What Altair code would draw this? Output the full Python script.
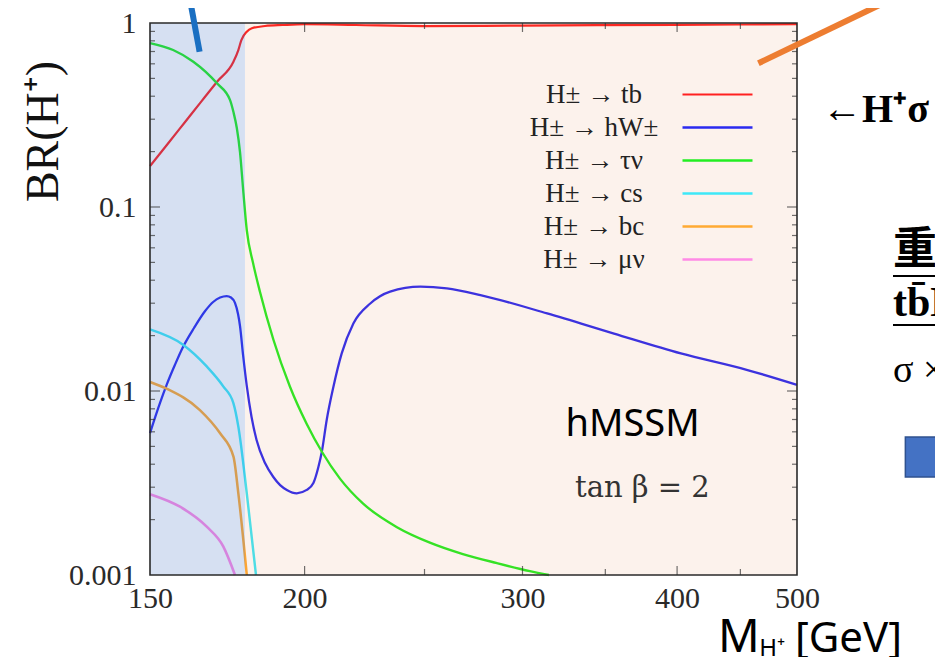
import altair as alt
import pandas as pd

# ---------------- data ----------------
series = ["H±  →  tb", "H±  →  hW±", "H±  →  τν", "H±  →  cs", "H±  →  bc", "H±  →  μν"]
colors = ["#ff2020", "#2a2af0", "#22ee22", "#3ee8f8", "#ffaa33", "#ff8ae6"]
widths = [2.2, 2.6, 2.6, 1.6, 1.6, 1.6]

tb_mass = [150, 155, 160, 165, 170, 175.2, 176.8, 177.8, 179.6, 181.3, 185.8, 192, 200, 220, 250, 300, 400, 500]
tb_br = [0.167, 0.220, 0.288, 0.374, 0.481, 0.616, 0.713, 0.808, 0.897, 0.936, 0.963, 0.975, 0.985, 0.975,
         0.962, 0.968, 0.978, 0.985]

hw_mass = [150, 152.8, 154.8, 157.1, 159.5, 162.8, 166.2, 168.7, 170.9, 173.0, 174.4, 175.7, 176.7, 177.35,
           178.4, 179.6, 181.2, 182.9, 185.8, 188.7, 191.1, 193.5, 197.1, 200.8, 203.3, 205.2, 206.5, 208.4,
           211.0, 214.3, 219.0, 226.0, 234.5, 248.1, 260.6, 277.4, 314.1, 355.7, 402.8, 456, 500]
hw_br = [0.00591, 0.0086, 0.0109, 0.01384, 0.01734, 0.022, 0.0272, 0.03046, 0.0322, 0.0328, 0.0322, 0.0301,
         0.0262, 0.02256, 0.0155, 0.01065, 0.00722, 0.00542, 0.00406, 0.00341, 0.00308, 0.0029, 0.00278,
         0.0029, 0.00316, 0.00386, 0.00466, 0.00696, 0.01051, 0.016, 0.0233, 0.0299, 0.0347, 0.0369, 0.0361,
         0.0332, 0.0264, 0.0205, 0.016, 0.013, 0.0108]

tau_mass = [150, 156.6, 162.6, 169.9, 174.1, 175.2, 176.3, 177.35, 178.4, 179.6, 181.7, 184.1, 188.7, 194.6,
            200.8, 206.6, 213.6, 222.9, 237.5, 252.5, 268.5, 286.1, 304.1, 315.1]
tau_br = [0.778, 0.713, 0.616, 0.47, 0.381, 0.328, 0.2687, 0.199, 0.1237, 0.0748, 0.0497, 0.0344, 0.01905,
          0.01058, 0.00662, 0.00466, 0.00334, 0.00245, 0.00182, 0.0015, 0.0013, 0.00116, 0.00105, 0.001]

cs_mass = [150, 159.6, 166.7, 171.9, 175.2, 176.8, 179.6, 182.7]
cs_br = [0.0216, 0.0178, 0.0136, 0.0106, 0.00857, 0.0064, 0.00278, 0.001]

bc_mass = [150, 154.7, 164.6, 170.9, 175.2, 176.8, 179.6]
bc_br = [0.0112, 0.0103, 0.00788, 0.00589, 0.0044, 0.00278, 0.001]

mu_mass = [150, 158.6, 166.7, 171.9, 175.7]
mu_br = [0.00275, 0.00235, 0.00183, 0.00143, 0.001]

x_labels = [150, 200, 300, 400, 500]
y_labels = [0.001, 0.01, 0.1, 1]
x_major_ticks = [200, 300, 400]
x_minor_ticks = [250, 350, 450]
y_major_ticks = [0.01, 0.1]
y_minor_ticks = [k * d for d in (0.001, 0.01, 0.1) for k in range(2, 10)]

region_low = [150, 179]     # light-blue band (below the tb threshold)
region_high = [179, 500]    # peach band

# ---------------- build table ----------------
parts = []
for name, m, b in zip(series,
                      [tb_mass, hw_mass, tau_mass, cs_mass, bc_mass, mu_mass],
                      [tb_br, hw_br, tau_br, cs_br, bc_br, mu_br]):
    parts.append(pd.DataFrame({"series": name, "mass": m, "br": b}))
curves = pd.concat(parts, ignore_index=True)

X_SCALE = alt.Scale(type="log", domain=[150, 500], nice=False)
Y_SCALE = alt.Scale(type="log", domain=[0.001, 1], nice=False)
SERIF = "Liberation Serif"
one = pd.DataFrame({"t": [""]})

lines = alt.Chart(curves).mark_line(interpolate="monotone").encode(
    x=alt.X("mass:Q", scale=X_SCALE, axis=alt.Axis(
        values=x_labels, labelExpr="'' + datum.value", ticks=False, domain=False, grid=False,
        labelFont=SERIF, labelFontSize=30, labelColor="#2a2a2a", labelPadding=8, labelOverlap=False,
        labelFlush=False, title=None)),
    y=alt.Y("br:Q", scale=Y_SCALE, axis=alt.Axis(
        values=y_labels, labelExpr="'' + datum.value", ticks=False, domain=False, grid=False,
        labelFont=SERIF, labelFontSize=30, labelColor="#2a2a2a", labelPadding=14, labelOverlap=False,
        title="BR(H⁺)", titleFont=SERIF, titleFontSize=46, titleFontWeight="normal", titleColor="#111",
        titleAngle=270, titleX=-83, titleY=108, titleAlign="center", titleBaseline="bottom")),
    color=alt.Color("series:N", scale=alt.Scale(domain=series, range=colors), legend=alt.Legend(
        title=None, orient="none", legendX=337, legendY=58, padding=0,
        symbolType="M-1,0M18.2,0H25.2", symbolSize=400, symbolStrokeWidth=2.5,
        labelFont=SERIF, labelFontSize=27, labelColor="#222", labelAlign="center",
        labelOffset=80, labelLimit=400, rowPadding=5)),
    strokeWidth=alt.StrokeWidth("series:N", scale=alt.Scale(domain=series, range=widths), legend=None),
)

blue_band = alt.Chart(pd.DataFrame({"s": [region_low[0]], "e": [region_low[1]]})).mark_rect(
    color="#4472c4", opacity=0.22).encode(
    x=alt.X("s:Q", scale=X_SCALE), x2="e:Q", y=alt.datum(0.001), y2=alt.datum(1))
peach_band = alt.Chart(pd.DataFrame({"s": [region_high[0]], "e": [region_high[1]]})).mark_rect(
    color="#e17d41", opacity=0.1).encode(
    x=alt.X("s:Q", scale=X_SCALE), x2="e:Q", y=alt.datum(0.001), y2=alt.datum(1))


def x_ticks(vals, length):
    df = pd.DataFrame([{"v": v, "edge": e} for v in vals for e in (0.001, 1)])
    return alt.Chart(df).mark_tick(orient="vertical", size=2 * length, thickness=1.2, color="#333",
                                   clip=True).encode(x="v:Q", y="edge:Q")


def y_ticks(vals, length):
    df = pd.DataFrame([{"v": v, "edge": e} for v in vals for e in (150, 500)])
    return alt.Chart(df).mark_tick(orient="horizontal", size=2 * length, thickness=1.2, color="#333",
                                   clip=True).encode(y="v:Q", x="edge:Q")


frame = alt.Chart(one).mark_rect(fillOpacity=0, stroke="#2a2a2a", strokeWidth=1.6).encode(
    x=alt.datum(150), x2=alt.datum(500), y=alt.datum(0.001), y2=alt.datum(1))


def label(text, mass, br, **kw):
    return alt.Chart(pd.DataFrame({"t": [text]})).mark_text(**kw).encode(
        text="t:N", x=alt.datum(mass), y=alt.datum(br))


def seg(m1, b1, m2, b2, color, width):
    df = pd.DataFrame({"m": [m1, m2], "b": [b1, b2]})
    return alt.Chart(df).mark_line(color=color, strokeWidth=width).encode(x="m:Q", y="b:Q")


annotations = [
    label("hMSSM", 368.2, 0.00656, font="Noto Sans", fontSize=38, color="#000",
          align="center", baseline="middle"),
    label("tan β = 2", 375.0, 0.00297, font="DejaVu Serif", fontSize=29, color="#333",
          align="center", baseline="middle"),
    label("←H⁺σ", 523.9, 0.2897, font=SERIF, fontSize=40, fontWeight="bold", color="#000",
          align="left", baseline="alphabetic"),
    label("重", 597.8, 0.0576, font="Noto Sans CJK JP", fontSize=44, fontWeight="bold", color="#000",
          align="left", baseline="middle"),
    label("tb̄H", 597.8, 0.0256, font=SERIF, fontSize=42, fontWeight="bold", color="#000",
          align="left", baseline="alphabetic"),
    label("σ ×", 597.8, 0.0112, font=SERIF, fontSize=38, color="#000",
          align="left", baseline="alphabetic"),
    label("M", 431.7, 0.000382, font="Noto Sans", fontSize=46, color="#000",
          align="left", baseline="alphabetic"),
    label("H⁺", 466.0, 0.000363, font="Noto Sans", fontSize=24, color="#000",
          align="left", baseline="alphabetic"),
    label("[GeV]", 498.1, 0.000382, font="Noto Sans", fontSize=42, color="#000",
          align="left", baseline="alphabetic"),
]

underline1 = seg(597.8, 0.0422, 700, 0.0422, "#000", 2)
underline2 = seg(597.8, 0.02284, 700, 0.02284, "#000", 2)
blue_arrow = seg(161.6, 1.334, 164.5, 0.698, "#1a6fc2", 6)
orange_arrow = seg(465.3, 0.604, 594.5, 1.334, "#ed7d31", 6)
blue_box = alt.Chart(one).mark_rect(color="#4472c4", stroke="#2f528f", strokeWidth=1.5).encode(
    x=alt.datum(611.7), x2=alt.datum(700), y=alt.datum(0.00341), y2=alt.datum(0.00562))

layers = [lines, blue_band, peach_band,
          x_ticks(x_major_ticks, 9), x_ticks(x_minor_ticks, 6),
          y_ticks(y_major_ticks, 10), y_ticks(y_minor_ticks, 5),
          frame] + annotations + [underline1, underline2, blue_arrow, orange_arrow, blue_box]

chart = alt.layer(*layers).properties(
    width=647, height=552,
    padding={"left": 142, "top": 15, "right": 138, "bottom": 82},
    autosize=alt.AutoSizeParams(type="none"),
    background="white",
).configure_view(stroke=None)

chart.save("out.html", embed_options={"renderer": "svg", "actions": False})
